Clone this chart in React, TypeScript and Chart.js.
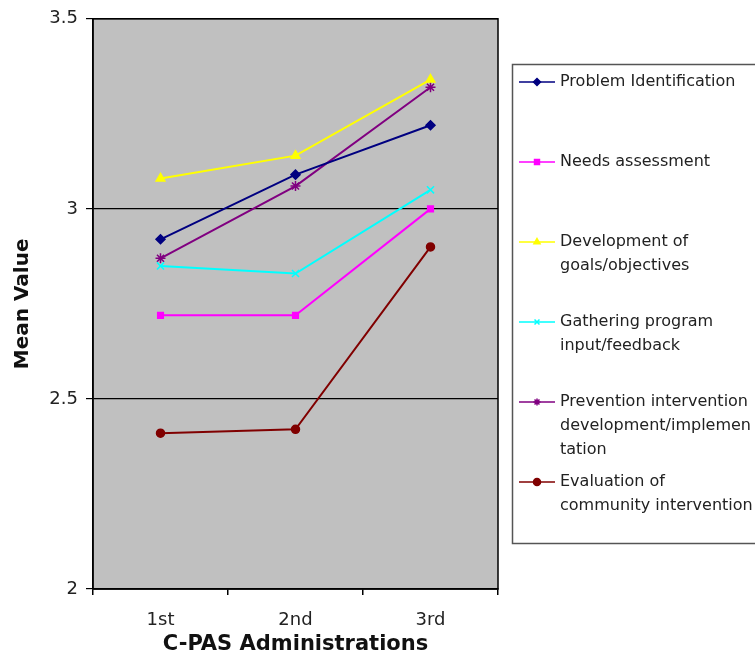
import React, { useEffect, useRef } from "react";
import { Chart, registerables } from "chart.js";
import { drawPoint } from "chart.js/helpers";

Chart.register(...registerables);

const categories = ["1st", "2nd", "3rd"];
const problemIdentification = [2.92, 3.09, 3.22];
const needsAssessment = [2.72, 2.72, 3.0];
const developmentGoals = [3.08, 3.14, 3.34];
const gatheringInput = [2.85, 2.83, 3.05];
const preventionIntervention = [2.87, 3.06, 3.32];
const evaluationCommunity = [2.41, 2.42, 2.9];
const yTicks = [2, 2.5, 3, 3.5];

const seriesNames = [
  "Problem Identification",
  "Needs assessment",
  "Development of goals/objectives",
  "Gathering program input/feedback",
  "Prevention intervention development/implementation",
  "Evaluation of community intervention",
];
const legendLines = [
  ["Problem Identification"],
  ["Needs assessment"],
  ["Development of", "goals/objectives"],
  ["Gathering program", "input/feedback"],
  ["Prevention intervention", "development/implemen", "tation"],
  ["Evaluation of", "community intervention"],
];

const colors = ["#000080", "#FF00FF", "#FFFF00", "#00FFFF", "#800080", "#800000"];
const markers = ["rectRot", "rect", "triangle", "crossRot", "star", "circle"];
const radii = [4.5, 4, 5, 5, 5, 4];

const FONT = "'DejaVu Sans', 'Liberation Sans', Arial, sans-serif";

const bgPlugin = {
  id: "plotBg",
  beforeDraw(chart: any) {
    const { ctx, chartArea } = chart;
    ctx.save();
    ctx.fillStyle = "#C0C0C0";
    ctx.fillRect(chartArea.left, chartArea.top, chartArea.right - chartArea.left, chartArea.bottom - chartArea.top);
    ctx.restore();
  },
  afterDraw(chart: any) {
    const { ctx, chartArea } = chart;
    ctx.save();
    ctx.strokeStyle = "#000000";
    ctx.lineWidth = 1.5;
    ctx.strokeRect(chartArea.left, chartArea.top, chartArea.right - chartArea.left, chartArea.bottom - chartArea.top);
    ctx.restore();
  },
};

const legendPlugin = {
  id: "customLegend",
  afterDraw(chart: any) {
    const { ctx } = chart;
    const boxL = 512.5;
    const boxT = 64.5;
    const boxR = 760;
    const boxB = 543.5;
    ctx.save();
    ctx.fillStyle = "#FFFFFF";
    ctx.fillRect(boxL, boxT, boxR - boxL, boxB - boxT);
    ctx.strokeStyle = "#555555";
    ctx.lineWidth = 1.5;
    ctx.strokeRect(boxL, boxT, boxR - boxL, boxB - boxT);
    ctx.textBaseline = "middle";
    ctx.textAlign = "left";
    chart.data.datasets.forEach((ds: any, i: number) => {
      const y0 = 82 + i * 80;
      ctx.strokeStyle = ds.borderColor;
      ctx.lineWidth = 1.5;
      ctx.beginPath();
      ctx.moveTo(519, y0);
      ctx.lineTo(555, y0);
      ctx.stroke();
      ctx.fillStyle = ds.borderColor;
      ctx.strokeStyle = ds.borderColor;
      ctx.lineWidth = 1.5;
      drawPoint(ctx, { pointStyle: ds.pointStyle, radius: 3.5, rotation: 0, borderWidth: 1.5 } as any, 537, y0);
      ctx.fillStyle = "#222222";
      ctx.font = `16px ${FONT}`;
      const lines = legendLines[i];
      lines.forEach((ln: string, j: number) => {
        ctx.fillText(ln, 560, y0 + j * 24);
      });
    });
    ctx.restore();
  },
};

export default function App() {
  const ref = useRef<HTMLCanvasElement>(null);
  useEffect(() => {
    const seriesData = [
      problemIdentification,
      needsAssessment,
      developmentGoals,
      gatheringInput,
      preventionIntervention,
      evaluationCommunity,
    ];
    const chart = new Chart(ref.current as HTMLCanvasElement, {
      type: "line",
      data: {
        labels: categories,
        datasets: seriesData.map((d, i) => ({
          label: seriesNames[i],
          data: d,
          borderColor: colors[i],
          backgroundColor: colors[i],
          pointStyle: markers[i] as any,
          pointRadius: radii[i],
          pointBorderWidth: 1.5,
          borderWidth: 2,
          tension: 0,
          fill: false,
        })),
      },
      options: {
        animation: false,
        responsive: false,
        maintainAspectRatio: false,
        layout: { padding: { left: 0, right: 257, top: 18, bottom: 0 } },
        plugins: {
          legend: { display: false },
          tooltip: { enabled: false },
        },
        scales: {
          x: {
            type: "category",
            offset: true,
            grid: {
              offset: true,
              drawOnChartArea: false,
              drawTicks: true,
              tickLength: 6,
              color: "#000000",
              lineWidth: 1.5,
            },
            border: { display: true, color: "#000000", width: 1.5 },
            ticks: {
              color: "#222222",
              font: { family: FONT, size: 18 },
              padding: 15,
              maxRotation: 0,
            },
            title: {
              display: true,
              text: "C-PAS Administrations",
              color: "#111111",
              font: { family: FONT, size: 21, weight: "bold" },
              padding: { top: 0, bottom: 9 },
            },
            afterFit(scale: any) {
              scale.height = 77;
            },
          },
          y: {
            min: 2,
            max: 3.5,
            afterBuildTicks(scale: any) {
              scale.ticks = yTicks.map((v) => ({ value: v }));
            },
            grid: {
              color: "#000000",
              lineWidth: 1.2,
              drawTicks: true,
              tickLength: 7,
            },
            border: { display: true, color: "#000000", width: 1.5 },
            ticks: {
              color: "#222222",
              font: { family: FONT, size: 18 },
              padding: 8,
              callback: (v: any) => String(v),
            },
            title: {
              display: true,
              text: "Mean Value",
              color: "#111111",
              font: { family: FONT, size: 20, weight: "bold" },
              padding: { top: 11, bottom: 0 },
            },
            afterFit(scale: any) {
              scale.width = 93;
            },
          },
        },
      },
      plugins: [bgPlugin, legendPlugin],
    });
    return () => chart.destroy();
  }, []);
  return (
    <div style={{ position: "absolute", left: 0, top: 0, width: 755, height: 666, background: "#fff" }}>
      <canvas ref={ref} width={755} height={666} style={{ width: 755, height: 666, display: "block" }} />
    </div>
  );
}
